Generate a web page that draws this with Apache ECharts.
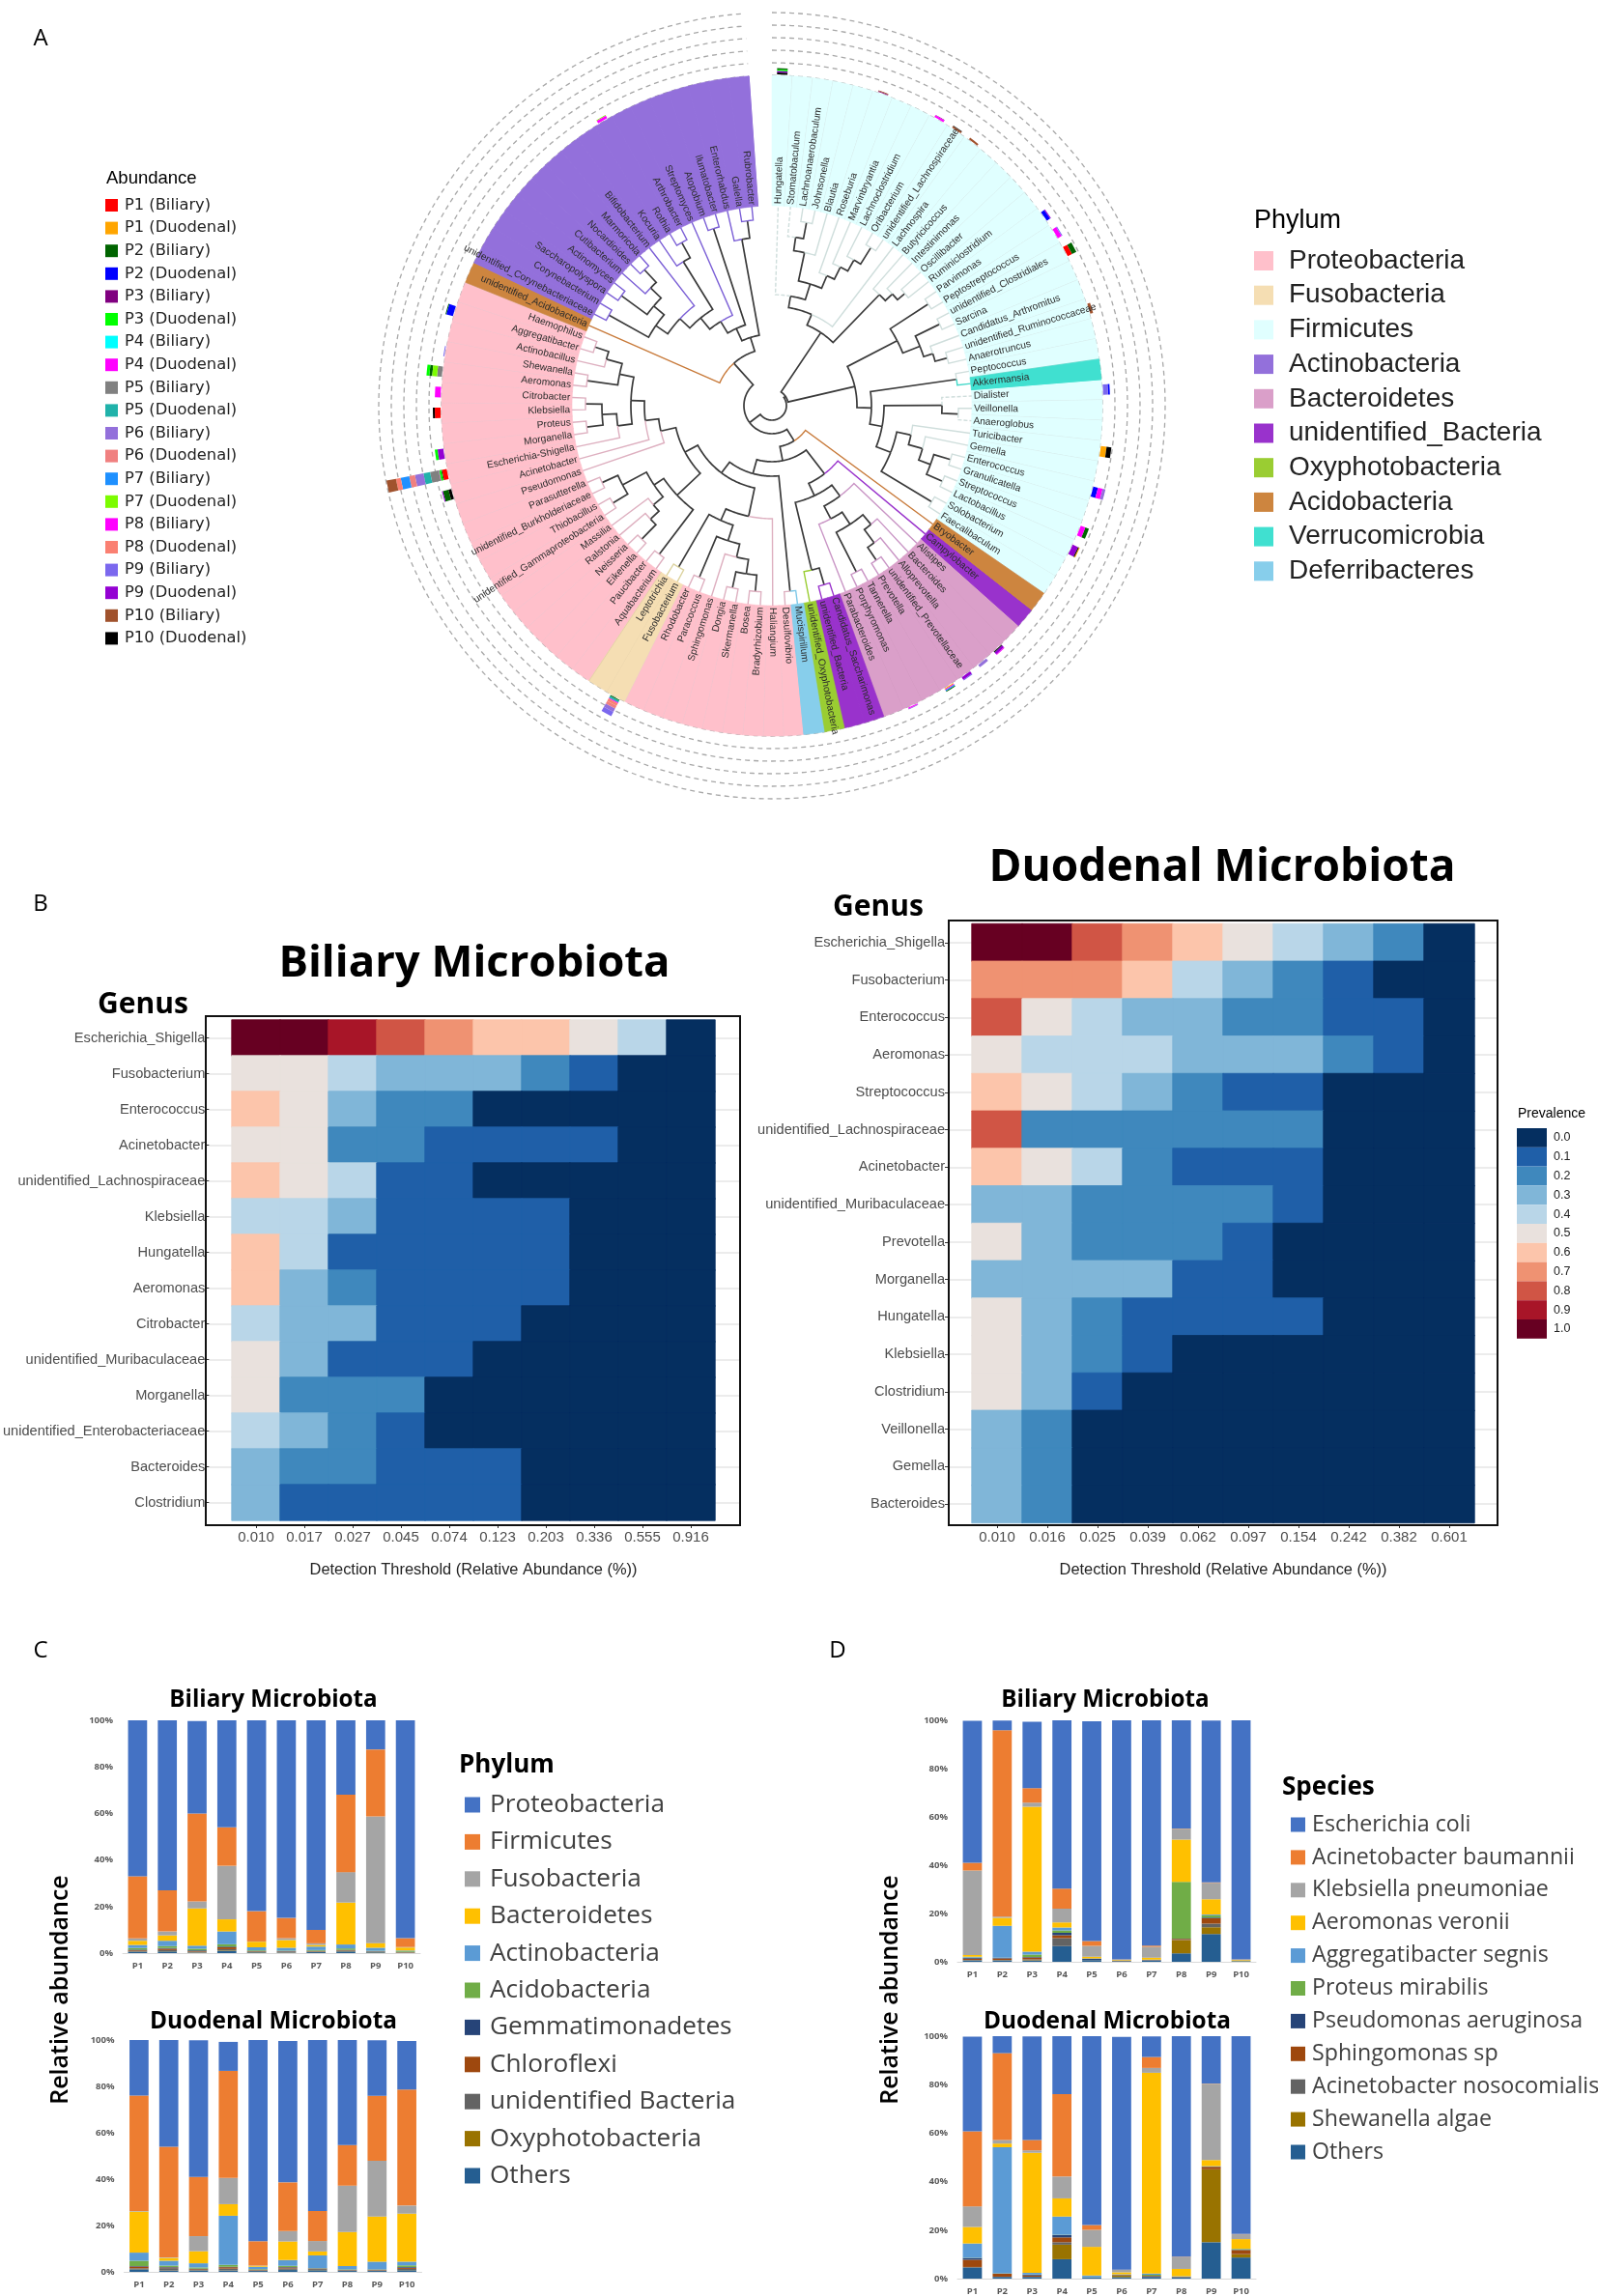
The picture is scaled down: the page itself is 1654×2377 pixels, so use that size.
<!DOCTYPE html>
<html><head><meta charset="utf-8">
<script src="https://cdn.jsdelivr.net/npm/echarts@6/dist/echarts.min.js"></script>
<style>html,body{margin:0;padding:0;background:#fff}#c{width:1654px;height:2377px}</style>
</head><body><div id="c"></div>
<script>
/* ---------- Panel A data ---------- */
const tipNames = ["Hungatella","Stomatobaculum","Lachnoanaerobaculum","Johnsonella","Blautia","Roseburia","Marvinbryantia","Lachnoclostridium","Oribacterium","unidentified_Lachnospiraceae","Lachnospira","Butyricicoccus","Intestinimonas","Oscillibacter","Ruminiclostridium","Parvimonas","Peptostreptococcus","unidentified_Clostridiales","Sarcina","Candidatus_Arthromitus","unidentified_Ruminococcaceae","Anaerotruncus","Peptococcus","Akkermansia","Dialister","Veillonella","Anaeroglobus","Turicibacter","Gemella","Enterococcus","Granulicatella","Streptococcus","Lactobacillus","Solobacterium","Faecalibaculum","Bryobacter","Campylobacter","Alistipes","Bacteroides","Alloprevotella","unidentified_Prevotellaceae","Prevotella","Tannerella","Porphyromonas","Parabacteroides","Candidatus_Saccharimonas","unidentified_Bacteria","unidentified_Oxyphotobacteria","Mucispirillum","Desulfovibrio","Haliangium","Bradyrhizobium","Bosea","Skermanella","Dongia","Sphingomonas","Paracoccus","Rhodobacter","Fusobacterium","Leptotrichia","Aquabacterium","Paucibacter","Eikenella","Neisseria","Ralstonia","Massilia","unidentified_Gammaproteobacteria","Thiobacillus","unidentified_Burkholderiaceae","Parasutterella","Pseudomonas","Acinetobacter","Escherichia-Shigella","Morganella","Proteus","Klebsiella","Citrobacter","Aeromonas","Shewanella","Actinobacillus","Aggregatibacter","Haemophilus","unidentified_Acidobacteria","unidentified_Corynebacteriaceae","Corynebacterium","Saccharopolyspora","Actinomyces","Cutibacterium","Nocardioides","Marmoricola","Bifidobacterium","Kocuria","Rothia","Arthrobacter","Streptomyces","Atopobium","Ilumatobacter","Enterorhabdus","Galella","Rubrobacter"];
const phylumNames = ["Proteobacteria","Fusobacteria","Firmicutes","Actinobacteria","Bacteroidetes","unidentified_Bacteria","Oxyphotobacteria","Acidobacteria","Verrucomicrobia","Deferribacteres"];
const phylumColors = ["#FFC0CB","#F5DEB3","#E0FFFF","#9370DB","#DA9FC9","#9932CC","#9ACD32","#CD853F","#40E0D0","#87CEEB"];
const branchColors = ["#deb0c0","#dcd3a0","#cfdedc","#7b5fd6","#c995c5","#9932cc","#9acd32","#c87a3a","#40d8c8","#7ec8e8"];
const leaderColors = ["#e2c8d0","#e6d2a8","#cfdcdc","#9370DB","#cf95bd","#9932CC","#9ACD32","#CD853F","#40E0D0","#87CEEB"];
/* phylum index of each run of tips, in tip order: [phylum, number of tips] */
const phylumRuns = [[2,23],[8,1],[2,11],[7,1],[5,1],[4,8],[5,2],[6,1],[9,1],[0,9],[1,2],[0,22],[7,1],[3,17]];
const dashedTips = [0,1,24,26];
const ringRadii = [342,355,368,381,394,407];
const patientNames = ["P1 (Biliary)","P1 (Duodenal)","P2 (Biliary)","P2 (Duodenal)","P3 (Biliary)","P3 (Duodenal)","P4 (Biliary)","P4 (Duodenal)","P5 (Biliary)","P5 (Duodenal)","P6 (Biliary)","P6 (Duodenal)","P7 (Biliary)","P7 (Duodenal)","P8 (Biliary)","P8 (Duodenal)","P9 (Biliary)","P9 (Duodenal)","P10 (Biliary)","P10 (Duodenal)"];
const patientColors = ["#FF0000","#FFA500","#006400","#0000FF","#800080","#00FF00","#00FFFF","#FF00FF","#808080","#20B2AA","#9370DB","#F08080","#1E90FF","#7CFC00","#FF00FF","#FA8072","#7B68EE","#9400D3","#A0522D","#000000"];
/* ring bars: tip, then [patient, height] from the inside out */
const abundanceBars = [
 [0,[19,2],[17,1.5],[5,1.5],[2,1.5]],[5,[4,.8],[18,.8]],[8,[14,2],[4,.5]],[9,[18,2],[19,.5]],[10,[18,2]],
 [15,[3,4],[17,1]],[16,[7,4.5],[16,1]],[17,[0,5],[2,5]],[20,[18,3]],[24,[16,5],[3,2]],[27,[1,6],[19,5]],
 [29,[3,5],[7,5],[10,3]],[31,[7,5],[2,4]],[32,[17,6],[19,1],[1,1]],[38,[19,1],[17,2.5],[7,1]],[39,[10,3]],
 [40,[17,3],[16,1]],[41,[1,1],[7,1],[12,1],[2,1]],[43,[14,1],[10,.8]],
 [58,[2,1],[9,2],[7,1],[15,3],[11,3],[10,4],[16,5]],[71,[19,3],[2,6],[17,1]],
 [72,[0,5],[2,1],[5,2],[7,.5],[8,9],[9,7],[10,9],[11,6],[12,9],[15,5],[18,10]],
 [73,[17,6],[5,3]],[75,[0,6],[19,2]],[76,[7,6]],[77,[8,5],[13,5],[2,3],[5,3]],[78,[16,1]],[80,[3,7],[2,1]],[92,[14,3],[13,.8]]
];
/* tree: n(node radius, child, child); plain numbers are tips */
const n = (r, ...kids) => ({r, kids});
const tree = n(15,
 n(17,
  n(91,
   n(103, n(115, 0, n(132, n(162, n(176, 1, n(193,2,3)), 4), n(146, 5, n(160, 6, n(173, 7, n(193,8,9)))))), 10),
   n(160, 11, n(170, 12, n(180, 13, 14)))),
  n(88,
   n(146, n(193,15,16), n(165, n(193,17,18), n(175, 19, n(188,20,21)))),
   n(103, n(193,22,23),
    n(116, n(176, 24, n(193,25,26)),
     n(132, n(147, 27, n(162, 28, n(175, n(193,29,30), n(193,31,32)))), n(193,33,34)))))),
 n(29,
  n(43, 35,
   n(58,
    n(89, 36,
     n(103,
      n(117, 37, n(132, n(147, n(160, 38, n(177, 39, n(193,40,41))), n(193,42,43)), 44)),
      n(175, n(193,45,46), 47))),
    n(73,
     n(87,
      n(117, 50, n(130, n(147, n(161, 55, n(176, n(193,51,52), n(193,53,54))), n(193,56,57)), n(193,58,59))),
      n(102,
       n(135, n(193,60,61), n(147, n(160, n(172, n(193,62,63), 64), 65), n(175, n(193,66,67), n(193,68,69)))),
       n(118, 70, n(132, 71, n(146, n(161, 72, n(176, n(193,73,74), n(193,75,76))), n(161, n(193,77,78), n(178, 79, n(193,80,81)))))))),
     n(193,48,49)))),
  n(59, 82,
   n(74,
    n(88, n(102, n(117, n(131, n(146, n(193,83,84), n(160, n(193,85,86), n(175, 87, n(193,88,89)))), 90), n(175, 91, n(193,92,93))), 94), n(193,95,96)),
    n(175, 97, n(193,98,99))))));

/* ---------- Panel B data ---------- */
const biliaryThresholds = ["0.010","0.017","0.027","0.045","0.074","0.123","0.203","0.336","0.555","0.916"];
const biliaryGenera = ["Escherichia_Shigella","Fusobacterium","Enterococcus","Acinetobacter","unidentified_Lachnospiraceae","Klebsiella","Hungatella","Aeromonas","Citrobacter","unidentified_Muribaculaceae","Morganella","unidentified_Enterobacteriaceae","Bacteroides","Clostridium"];
const biliaryPrevalence = [
 [1,1,.9,.8,.7,.6,.6,.5,.4,0],[.5,.5,.4,.3,.3,.3,.2,.1,0,0],[.6,.5,.3,.2,.2,0,0,0,0,0],[.5,.5,.2,.2,.1,.1,.1,.1,0,0],
 [.6,.5,.4,.1,.1,0,0,0,0,0],[.4,.4,.3,.1,.1,.1,.1,0,0,0],[.6,.4,.1,.1,.1,.1,.1,0,0,0],[.6,.3,.2,.1,.1,.1,.1,0,0,0],
 [.4,.3,.3,.1,.1,.1,0,0,0,0],[.5,.3,.1,.1,.1,0,0,0,0,0],[.5,.2,.2,.2,0,0,0,0,0,0],[.4,.3,.2,.1,0,0,0,0,0,0],
 [.3,.2,.2,.1,.1,.1,0,0,0,0],[.3,.1,.1,.1,.1,.1,0,0,0,0]];
const duodenalThresholds = ["0.010","0.016","0.025","0.039","0.062","0.097","0.154","0.242","0.382","0.601"];
const duodenalGenera = ["Escherichia_Shigella","Fusobacterium","Enterococcus","Aeromonas","Streptococcus","unidentified_Lachnospiraceae","Acinetobacter","unidentified_Muribaculaceae","Prevotella","Morganella","Hungatella","Klebsiella","Clostridium","Veillonella","Gemella","Bacteroides"];
const duodenalPrevalence = [
 [1,1,.8,.7,.6,.5,.4,.3,.2,0],[.7,.7,.7,.6,.4,.3,.2,.1,0,0],[.8,.5,.4,.3,.3,.2,.2,.1,.1,0],[.5,.4,.4,.4,.3,.3,.3,.2,.1,0],
 [.6,.5,.4,.3,.2,.1,.1,0,0,0],[.8,.2,.2,.2,.2,.2,.2,0,0,0],[.6,.5,.4,.2,.1,.1,.1,0,0,0],[.3,.3,.2,.2,.2,.2,.1,0,0,0],
 [.5,.3,.2,.2,.2,.1,0,0,0,0],[.3,.3,.3,.3,.1,.1,0,0,0,0],[.5,.3,.2,.1,.1,.1,.1,0,0,0],[.5,.3,.2,.1,0,0,0,0,0,0],
 [.5,.3,.1,0,0,0,0,0,0,0],[.3,.2,0,0,0,0,0,0,0,0],[.3,.2,0,0,0,0,0,0,0,0],[.3,.2,0,0,0,0,0,0,0,0]];
const prevalenceLevels = [0,.1,.2,.3,.4,.5,.6,.7,.8,.9,1];
const prevalenceLabels = ["0.0","0.1","0.2","0.3","0.4","0.5","0.6","0.7","0.8","0.9","1.0"];
const prevalenceColors = ["#052f60","#1f5fa8","#3f88bd","#80b6d8","#b9d6e8","#e9e1dd","#fcc5ab","#ef9272","#d05545","#a81528","#670022"];

/* ---------- Panels C, D data ---------- */
const patients = ["P1","P2","P3","P4","P5","P6","P7","P8","P9","P10"];
const barPhyla = ["Proteobacteria ","Firmicutes ","Fusobacteria ","Bacteroidetes ","Actinobacteria ","Acidobacteria ","Gemmatimonadetes","Chloroflexi","unidentified Bacteria","Oxyphotobacteria ","Others"];
const barSpecies = ["Escherichia coli","Acinetobacter baumannii","Klebsiella pneumoniae","Aeromonas veronii","Aggregatibacter segnis","Proteus mirabilis","Pseudomonas aeruginosa","Sphingomonas sp","Acinetobacter nosocomialis","Shewanella algae","Others "];
const officeColors = ["#4472C4","#ED7D31","#A5A5A5","#FFC000","#5B9BD5","#70AD47","#264478","#9E480E","#636363","#997300","#255E91"];
const phylumBiliary = [
 [67,73,39.7,46,82,85,90,32,12.5,93.6],[26.7,17.7,37.8,16.5,13,8.7,5.8,33.2,28.8,3.8],[1,1.7,3,23,.1,.8,.7,13.1,54.4,.2],
 [1.8,2.3,16,5.2,2.4,3.3,.7,18,2,1.3],[1.3,2.3,1.3,5.5,1.3,1.2,1.5,1.7,1.3,.3],[.7,.8,.7,1,.3,.2,.3,.6,.2,.3],
 [.3,.3,.3,.3,.1,.2,.1,.2,.1,.1],[.3,.6,.3,.8,.2,.2,.2,.2,.1,.1],[.3,.5,.3,.5,.2,.2,.2,.2,.2,.1],[.1,.1,.1,.2,.1,.1,.1,.1,.1,.1],[.5,.7,.2,1,.3,.2,.4,.7,.3,.1]];
const phylumDuodenal = [
 [24,46,59,12.5,87,61,74,45.5,24,21],[49.7,47.8,25.5,46.2,10.5,21,13,17.5,28,50],[.3,.2,6.5,11.3,.1,4.5,4.5,20,24,3.5],
 [17.7,1.2,5.2,5,.4,8,1.7,14.7,19.5,20.7],[3.5,2.1,1.8,21.2,1,2.5,5.5,1.4,3.3,1.6],[2.3,.6,.5,.8,.2,.5,.1,.2,.1,.7],
 [.2,.2,.2,.2,.1,.2,.1,.1,.1,.3],[.8,.3,.3,.6,.2,.4,.2,.1,.2,.5],[.3,1,.3,.7,.2,.6,.4,.2,.2,.5],[.1,.1,.1,.1,.1,.1,.1,.1,.1,.1],[1.1,.5,.5,.6,.4,.8,.7,.4,.4,.7]];
const speciesBiliary = [
 [58.8,4,27.5,69.7,91,99,93.3,45,67,99],[3.2,77.2,6,8.3,2,.1,.5,.1,.2,.1],[35,.5,1.7,5.7,4.5,.2,4.5,4.5,6.8,.2],
 [.7,3.3,60,2.1,.7,.3,.8,17.5,6.3,.4],[.3,13.2,1.2,1.2,.1,0,.1,0,.3,0],[.2,.1,1,1,0,0,0,23.5,1,0],
 [.3,.2,.2,1,.5,0,.1,.1,.3,0],[.5,.6,.8,1.2,0,.1,.1,.4,2.2,0],[.2,.2,.3,3.3,.1,0,.1,.1,1.5,0],[.1,.1,.2,0,0,0,0,5.5,2.8,0],[.5,.5,.5,6.5,.7,.3,.5,3.5,11.5,.3]];
const speciesDuodenal = [
 [39,7.2,42.7,24,78,96,8.5,91,20,82],[31,35.8,4.3,34,2,.1,4.5,.1,.1,.1],[8.5,1.5,1,9,7,1,2,5,31.5,2],
 [6.8,1.5,49.5,7.5,11.8,.8,82.8,3,2.5,4],[5.9,52,.7,7.5,.7,.1,.5,.1,.1,.1],[.1,.1,.1,.1,.1,.1,.4,.1,.1,.3],
 [.7,.1,.3,1,0,.1,.1,.1,.1,.1],[3,1.2,.5,2,0,.2,.3,.1,1,1.7],[.3,.1,.1,1,0,.1,.1,.1,.1,.1],[0,0,0,6,0,.6,0,.1,30,1.3],[4.5,.7,.7,8,.5,.6,.7,.4,15,8.7]];

/* ---------- build ---------- */
const STEP = 3.56, INNER = 207, OUTER = 342;
const tipAngle = i => (i + .5) * STEP;
const tipPhylum = [];
phylumRuns.forEach(([p, k]) => { for (let i = 0; i < k; i++) tipPhylum.push(p); });

const arcPts = (api, r, a0, a1) => {
  const out = [], k = Math.max(1, Math.ceil(Math.abs(a1 - a0) / 1));
  for (let i = 0; i <= k; i++) out.push(api.coord([r, a0 + (a1 - a0) * i / k]));
  return out;
};
/* edges of the tree */
const edges = [];
const angleOf = node => typeof node === 'number' ? tipAngle(node) : (node.a = (angleOf(node.kids[0]) + angleOf(node.kids[node.kids.length - 1])) / 2);
angleOf(tree);
(function walk(node) {
  node.kids.forEach(k => {
    const tip = typeof k === 'number';
    edges.push({r0: node.r, a0: node.a, r1: tip ? INNER : k.r, a1: tip ? tipAngle(k) : k.a,
      color: tip ? branchColors[tipPhylum[k]] : '#3a3a3a', width: tip ? 1.4 : 1.7, dash: tip && dashedTips.includes(k)});
    if (!tip) walk(k);
  });
})(tree);

const series = [], grid = [], xAxis = [], yAxis = [], legend = [], texts = [];
const FONT = 'Liberation Sans', OPEN = 'Open Sans';
const polarBase = {type: 'custom', coordinateSystem: 'polar', polarIndex: 0, silent: true, animation: false, clip: false};

/* rings */
series.push({...polarBase, name: 'rings', z: 1, data: ringRadii.map(r => [r, 0]),
  renderItem: (p, api) => ({type: 'polyline', shape: {points: arcPts(api, ringRadii[p.dataIndex], 0, 356)},
    style: {stroke: '#a8a8a8', lineWidth: 1.3, fill: null, lineDash: [5, 4]}})});
/* wedges, one series per phylum */
phylumNames.forEach((name, pi) => {
  const tips = tipPhylum.map((p, i) => p === pi ? i : -1).filter(i => i >= 0);
  series.push({...polarBase, name, z: 2, itemStyle: {color: phylumColors[pi]}, data: tips.map(i => [OUTER, tipAngle(i)]),
    renderItem: (p, api) => {
      const a = tipAngle(tips[p.dataIndex]), a0 = a - STEP / 2, a1 = a + STEP / 2;
      const pts = arcPts(api, OUTER, a0, a1).concat(arcPts(api, INNER, a1, a0));
      return {type: 'group', children: [
        {type: 'polygon', shape: {points: pts}, style: {fill: phylumColors[pi], stroke: phylumColors[pi], lineWidth: .6}},
        {type: 'polyline', shape: {points: [api.coord([INNER, a1]), api.coord([OUTER, a1])]}, style: {stroke: leaderColors[pi], lineWidth: 1, fill: null}}]};
    }});
});
/* ring bars, one series per patient */
const segByPatient = patientNames.map(() => []);
abundanceBars.forEach(row => {
  let r = OUTER + 1;
  row.slice(1).forEach(([pat, h]) => { segByPatient[pat].push({tip: row[0], r0: r, r1: r + h}); r += h; });
});
patientNames.forEach((name, pi) => {
  series.push({...polarBase, name, z: 3, itemStyle: {color: patientColors[pi]}, data: segByPatient[pi].map(s => [s.r1, tipAngle(s.tip)]),
    renderItem: (p, api) => {
      const s = segByPatient[pi][p.dataIndex], a = tipAngle(s.tip);
      return {type: 'polygon', shape: {points: arcPts(api, s.r1, a - .9, a + .9).concat(arcPts(api, s.r0, a + .9, a - .9))},
        style: {fill: patientColors[pi]}};
    }});
});
/* tree */
series.push({...polarBase, name: 'tree', z: 4, data: edges.map(e => [e.r1, e.a1]),
  renderItem: (p, api) => {
    const e = edges[p.dataIndex];
    return {type: 'polyline', shape: {points: arcPts(api, e.r0, e.a0, e.a1).concat([api.coord([e.r1, e.a1])])},
      style: {stroke: e.color, lineWidth: e.width, fill: null, lineDash: e.dash ? [4, 2] : null}};
  }});
/* tip labels */
series.push({...polarBase, name: 'tips', z: 5, data: tipNames.map((t, i) => [INNER, tipAngle(i)]),
  renderItem: (p, api) => {
    const a = tipAngle(p.dataIndex), right = a < 180, xy = api.coord([INNER + 2, a]);
    return {type: 'text', x: xy[0], y: xy[1], rotation: ((right ? 90 : 270) - a) * Math.PI / 180,
      style: {text: tipNames[p.dataIndex], fontSize: 10.2, fontFamily: FONT, fill: '#2b2b2b', align: right ? 'left' : 'right', verticalAlign: 'middle'}};
  }});

const polar = {center: [799, 420], radius: 420};
const angleAxis = {type: 'value', min: 0, max: 360, startAngle: 90, clockwise: true, show: false, splitLine: {show: false}};
const radiusAxis = {type: 'value', min: 0, max: 420, show: false, splitLine: {show: false}};

/* heatmaps */
function addAxes(g, x, y) { grid.push(g); const i = grid.length - 1; xAxis.push({gridIndex: i, ...x}); yAxis.push({gridIndex: i, ...y}); return i; }
const hiddenVal = {type: 'value', show: false, splitLine: {show: false}};
const heatSeriesIdx = [];
function heat(frame, cell, names, ths, rows) {
  /* frame box */
  addAxes({left: frame.l, top: frame.t, width: frame.w, height: frame.h, show: true, borderColor: '#111', borderWidth: 2, backgroundColor: 'transparent', z: 5}, hiddenVal, hiddenVal);
  /* row labels and the pale row lines reach across the frame */
  addAxes({left: frame.l, top: cell.t, width: frame.w, height: cell.h},
    {type: 'value', show: false, splitLine: {show: false}},
    {type: 'category', data: names, inverse: true,
     axisLine: {show: false}, axisTick: {show: true, alignWithLabel: true, length: 4, lineStyle: {color: '#333'}},
     axisLabel: {fontFamily: FONT, fontSize: 14.6, color: '#4d4d4d', margin: 4, interval: 0, hideOverlap: false},
     splitLine: {show: true, alignWithLabel: true, lineStyle: {color: '#ececec', width: 2}}});
  const gi = addAxes({left: cell.l, top: cell.t, width: cell.w, height: cell.h},
    {type: 'category', data: ths, offset: frame.t + frame.h - cell.t - cell.h, axisLine: {show: false}, axisTick: {show: true, alignWithLabel: true, length: 3, lineStyle: {color: '#333'}},
     axisLabel: {fontFamily: FONT, fontSize: 15, color: '#4d4d4d', margin: 5, interval: 0},
     name: 'Detection Threshold (Relative Abundance (%))', nameLocation: 'middle', nameGap: 38,
     nameTextStyle: {fontFamily: FONT, fontSize: 16.4, color: '#222'}, splitLine: {show: false}, splitArea: {show: false}},
    {type: 'category', data: names, inverse: true, show: false, splitArea: {show: false}});
  const data = [];
  rows.forEach((r, y) => r.forEach((v, x) => data.push({value: [x, y, v],
    itemStyle: {borderWidth: .8, borderColor: prevalenceColors[prevalenceLevels.indexOf(v)]}})));
  heatSeriesIdx.push(series.length);
  series.push({type: 'heatmap', xAxisIndex: gi, yAxisIndex: gi, data, silent: true, animation: false, progressive: 0, z: 3});
}
heat({l: 213, t: 1052, w: 553, h: 527}, {l: 240, t: 1056, w: 500, h: 518}, biliaryGenera, biliaryThresholds, biliaryPrevalence);
heat({l: 982, t: 953, w: 568, h: 626}, {l: 1006, t: 956.5, w: 520, h: 620}, duodenalGenera, duodenalThresholds, duodenalPrevalence);

/* stacked bars */
function bars(box, names, rows) {
  const gi = addAxes({left: box.l, top: box.t, width: box.w, height: box.h},
    {type: 'category', data: patients, axisLine: {show: true, lineStyle: {color: '#d9d9d9'}}, axisTick: {show: false},
     axisLabel: {fontFamily: OPEN, fontSize: 9.5, fontWeight: 'bold', color: '#595959', margin: 8, interval: 0}},
    {type: 'value', min: 0, max: 100, interval: 20, axisLine: {show: false}, axisTick: {show: false}, splitLine: {show: false},
     axisLabel: {formatter: '{value}%', fontFamily: OPEN, fontSize: 9.5, fontWeight: 'bold', color: '#595959', margin: 10}});
  for (let i = names.length - 1; i >= 0; i--) {
    series.push({type: 'bar', name: names[i], xAxisIndex: gi, yAxisIndex: gi, stack: 'all' + gi, data: rows[i], barWidth: '64%',
      silent: true, animation: false, itemStyle: {color: officeColors[i]}});
  }
}
bars({l: 127, t: 1781, w: 308, h: 241}, barPhyla, phylumBiliary);
bars({l: 128.5, t: 2112, w: 308, h: 240}, barPhyla, phylumDuodenal);
bars({l: 991, t: 1781, w: 309, h: 250}, barSpecies, speciesBiliary);
bars({l: 991, t: 2108, w: 309, h: 251}, barSpecies, speciesDuodenal);

/* legends */
const lg = (data, left, top, w, h, gap, font, size, color, pad) => ({data, show: true, orient: 'vertical', left, top, itemWidth: w, itemHeight: h, itemGap: gap,
  icon: 'rect', selectedMode: false, padding: 0, textStyle: {fontFamily: font, fontSize: size, color, padding: [0, 0, 0, pad]}});
legend.push(lg(patientNames, 109, 204.5, 13, 13, 7.6, 'DejaVu Sans', 16.3, '#222', 2));
legend.push(lg(phylumNames, 1298, 256, 20, 20, 7.7, FONT, 28, '#222', 11));
legend.push(lg(barPhyla, 481, 1855.5, 16, 16, 12.4, OPEN, 26.2, '#404040', 5));
legend.push(lg(barSpecies, 1336, 1877.5, 15, 15, 10.9, OPEN, 23.2, '#404040', 2));

/* free text */
const t = (text, x, y, size, weight, font, align, rotation) => texts.push({type: 'text', x, y, rotation: rotation || 0, silent: true, z: 20,
  style: {text, fontSize: size, fontWeight: weight || 'normal', fontFamily: font || OPEN, fill: '#000', align: align || 'center', verticalAlign: 'middle'}});
t('A', 42, 40.5, 24, 'normal', OPEN); t('B', 42, 936.5, 24, 'normal', OPEN); t('C', 42, 1709.5, 24, 'normal', OPEN); t('D', 867, 1709.5, 24, 'normal', OPEN);
t('Abundance', 110, 185, 18.5, 'normal', FONT, 'left');
t('Phylum', 1298, 228.5, 27, 'normal', FONT, 'left');
t('Biliary Microbiota', 491, 998, 45.5, 'bold');
t('Duodenal Microbiota', 1265, 899, 46, 'bold');
t('Genus', 148, 1040, 30, 'bold');
t('Genus', 909, 939, 30, 'bold');
t('Prevalence', 1571, 1153, 14, 'normal', FONT, 'left');
t('Biliary Microbiota', 283, 1760, 24.2, 'bold');
t('Duodenal Microbiota', 283, 2093, 24.4, 'bold');
t('Biliary Microbiota', 1144, 1760, 24.2, 'bold');
t('Duodenal Microbiota', 1146, 2093, 24.4, 'bold');
t('Relative abundance', 63, 2060, 25, '600', OPEN, 'center', Math.PI / 2);
t('Relative abundance', 921.5, 2060, 25, '600', OPEN, 'center', Math.PI / 2);
t('Phylum', 475, 1828, 26, 'bold', OPEN, 'left');
t('Species', 1327, 1851, 26, 'bold', OPEN, 'left');

const visualMap = {type: 'piecewise', seriesIndex: heatSeriesIdx, dimension: 2, left: 1570, top: 1168, orient: 'vertical', align: 'left', inverse: true,
  itemWidth: 31, itemHeight: 19.8, itemGap: 0, itemSymbol: 'rect', padding: 0, showLabel: true, selectedMode: false, textGap: 7,
  textStyle: {fontFamily: FONT, fontSize: 12.5, color: '#222'},
  pieces: prevalenceLevels.map((v, i) => ({value: v, label: prevalenceLabels[i], color: prevalenceColors[i]}))};

const chart = echarts.init(document.getElementById('c'), null, {renderer: 'canvas', width: 1654, height: 2377});
chart.setOption({animation: false, backgroundColor: '#fff', tooltip: {show: false}, polar, angleAxis, radiusAxis, grid, xAxis, yAxis, legend, visualMap, series, graphic: {elements: texts}});
</script></body></html>
